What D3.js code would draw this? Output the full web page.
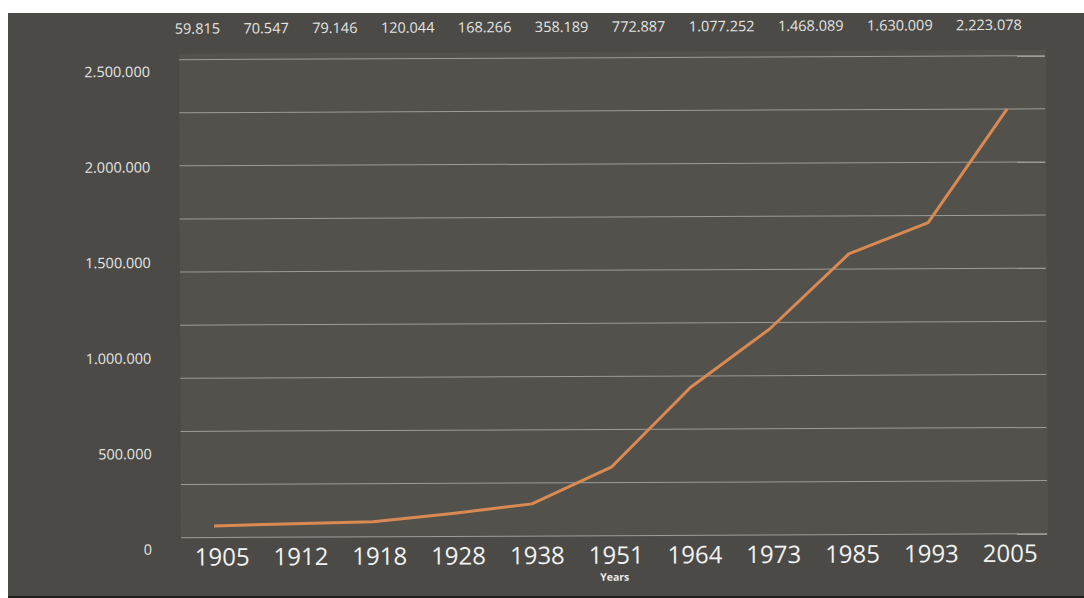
<!DOCTYPE html>
<html>
<head>
<meta charset="utf-8">
<script src="https://cdn.jsdelivr.net/npm/d3@7"></script>
<style>
  body { margin: 0; background: #ffffff; }
  svg { display: block; }
  text { font-family: "Open Sans", "Noto Sans", sans-serif; }
</style>
</head>
<body>
<svg width="1084" height="598"></svg>
<script>
// data
var years = ["1905", "1912", "1918", "1928", "1938", "1951", "1964", "1973", "1985", "1993", "2005"];
var population = [59815, 70547, 79146, 120044, 168266, 358189, 772887, 1077252, 1468089, 1630009, 2223078];
var yTicks = [0, 500000, 1000000, 1500000, 2000000, 2500000];
var xTitle = "Years";

var svg = d3.select("svg");
var W = 1084, H = 598;

// dots as thousands separator, like the picture
var fmt = d3.formatLocale({decimal: ",", thousands: ".", grouping: [3], currency: ["", ""]}).format(",d");

// outer dark panel
svg.append("rect")
    .attr("x", 8).attr("y", 13)
    .attr("width", W - 8).attr("height", H - 15)
    .attr("fill", "#4b4a47");
svg.append("rect")
    .attr("x", 8).attr("y", H - 2)
    .attr("width", W - 8).attr("height", 2)
    .attr("fill", "#1e1e1c");

// the scan is a little tilted
var g = svg.append("g").attr("transform", "rotate(-0.26, 542, 300)");

var plotL = 180, plotR = 1047, plotT = 52, plotB = 537;

g.append("rect")
    .attr("x", plotL).attr("y", plotT)
    .attr("width", plotR - plotL).attr("height", plotB - plotT)
    .attr("fill", "#52514c");

var x = d3.scalePoint().domain(years).range([plotL + 33, plotR - 39]);
var xLab = d3.scalePoint().domain(years).range([221, 1009]);
var y = d3.scaleLinear().domain([0, 2500000]).range([536, 58]);

// ten evenly spaced grid lines (they do not sit on the tick labels)
var grid = d3.scaleLinear().domain([0, 9]).range([536, 58]);
g.append("g").selectAll("line")
    .data(d3.range(10))
    .enter().append("line")
    .attr("x1", plotL).attr("x2", plotR - 1)
    .attr("y1", function(d){ return grid(d) })
    .attr("y2", function(d){ return grid(d) })
    .attr("stroke", "#9c9b96")
    .attr("stroke-width", 1);

// y labels
g.append("g").selectAll("text")
    .data(yTicks)
    .enter().append("text")
    .attr("x", 151)
    .attr("y", function(d){ return y(d) + 12 })
    .attr("dy", "0.35em")
    .attr("text-anchor", "end")
    .attr("fill", "#e6e6e3")
    .attr("font-size", 14.5)
    .text(function(d){ return fmt(d) });

// x labels
g.append("g").selectAll("text")
    .data(years)
    .enter().append("text")
    .attr("x", function(d){ return xLab(d) })
    .attr("y", 564)
    .attr("text-anchor", "middle")
    .attr("fill", "#f2f2f0")
    .attr("font-size", 24)
    .text(function(d){ return d });

g.append("text")
    .attr("x", (plotL + plotR) / 2)
    .attr("y", 581)
    .attr("text-anchor", "middle")
    .attr("fill", "#ecebe8")
    .attr("font-size", 10.5)
    .attr("font-weight", "bold")
    .text(xTitle);

// value row along the top, flowed with equal gaps
var topRow = g.append("g").selectAll("text")
    .data(population)
    .enter().append("text")
    .attr("y", 27)
    .attr("dy", "0.35em")
    .attr("fill", "#e4e4e1")
    .attr("font-size", 14.5)
    .text(function(d){ return fmt(d) });

var widths = [];
topRow.each(function(){ widths.push(this.getComputedTextLength()) });
var rowL = 176, rowR = 1023;
var gap = (rowR - rowL - d3.sum(widths)) / (widths.length - 1);
var cursor = rowL;
topRow.attr("x", function(d, i){ var p = cursor; cursor += widths[i] + gap; return p });

// the line
var line = d3.line()
    .x(function(d, i){ return x(years[i]) })
    .y(function(d){ return y(d) });

g.append("path")
    .datum(population)
    .attr("d", line)
    .attr("fill", "none")
    .attr("stroke", "#d98a52")
    .attr("stroke-width", 3)
    .attr("stroke-linejoin", "round");
</script>
</body>
</html>
